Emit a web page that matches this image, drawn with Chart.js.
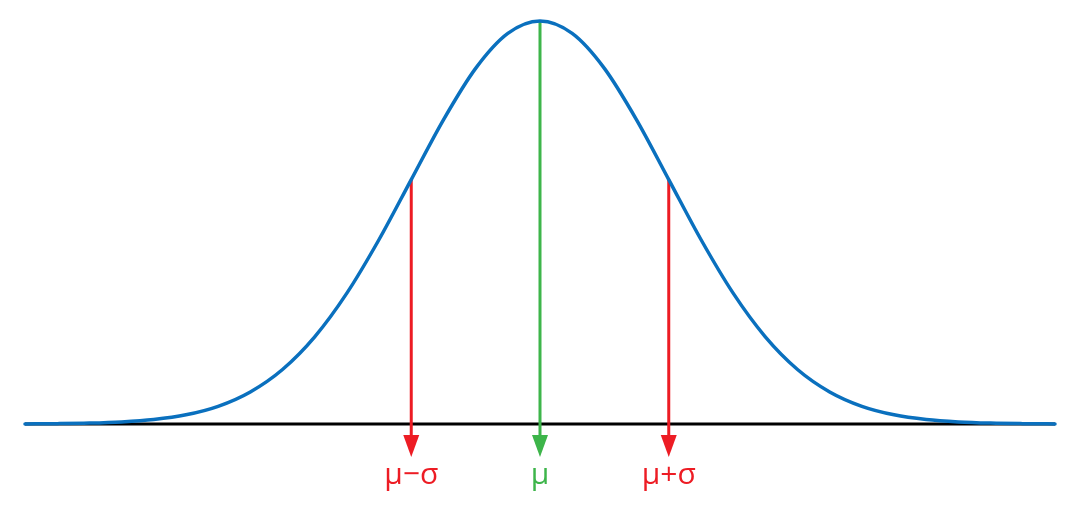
<!DOCTYPE html>
<html>
<head>
<meta charset="utf-8">
<script src="https://cdn.jsdelivr.net/npm/chart.js@4"></script>
<style>
html,body{margin:0;padding:0;background:#fff;}
canvas{display:block;}
</style>
</head>
<body>
<canvas id="c" width="1080" height="514"></canvas>
<script>
// Curve samples (x in σ units, height relative to peak)
const curveX = [-4,-3.75,-3.5,-3.25,-3,-2.75,-2.5,-2.25,-2,-1.75,-1.5,-1.25,-1,-0.75,-0.5,-0.25,0,0.25,0.5,0.75,1,1.25,1.5,1.75,2,2.25,2.5,2.75,3,3.25,3.5,3.75,4];
const curveY = [0.0003,0.0009,0.0022,0.0051,0.0111,0.0228,0.0439,0.0796,0.1353,0.2163,0.3247,0.4578,0.6065,0.7548,0.8825,0.9692,1,0.9692,0.8825,0.7548,0.6065,0.4578,0.3247,0.2163,0.1353,0.0796,0.0439,0.0228,0.0111,0.0051,0.0022,0.0009,0.0003];

// Marker arrows
const markerX = [-1, 0, 1];
const markerTop = [0.6065, 1, 0.6065];
const markerLabels = ['μ−σ', 'μ', 'μ+σ'];
const markerColors = ['#ED1C24', '#3DB54A', '#ED1C24'];

const points = curveX.map((x, i) => ({x: x, y: curveY[i]}));

const arrowPlugin = {
  id: 'arrows',
  beforeDatasetsDraw(chart) {
    const ctx = chart.ctx;
    const xs = chart.scales.x, ys = chart.scales.y;
    const y0 = ys.getPixelForValue(0);
    ctx.save();
    // baseline
    ctx.strokeStyle = '#000';
    ctx.lineWidth = 3;
    ctx.beginPath();
    ctx.moveTo(xs.getPixelForValue(-4), y0);
    ctx.lineTo(xs.getPixelForValue(4), y0);
    ctx.stroke();
    // arrows
    markerX.forEach((mx, i) => {
      const px = xs.getPixelForValue(mx);
      const top = ys.getPixelForValue(markerTop[i]);
      const tip = y0 + 33;
      const base = y0 + 11;
      ctx.strokeStyle = markerColors[i];
      ctx.fillStyle = markerColors[i];
      ctx.lineWidth = 3;
      ctx.beginPath();
      ctx.moveTo(px, top);
      ctx.lineTo(px, base + 2);
      ctx.stroke();
      ctx.beginPath();
      ctx.moveTo(px - 8, base);
      ctx.lineTo(px + 8, base);
      ctx.lineTo(px, tip);
      ctx.closePath();
      ctx.fill();
      ctx.font = '30px "Open Sans", sans-serif';
      ctx.textAlign = 'center';
      ctx.textBaseline = 'alphabetic';
      ctx.fillText(markerLabels[i], px, y0 + 60);
    });
    ctx.restore();
  }
};

new Chart(document.getElementById('c'), {
  type: 'line',
  data: {
    datasets: [{
      data: points,
      borderColor: '#0A70BE',
      borderWidth: 3.5,
      pointRadius: 0,
      fill: false,
      cubicInterpolationMode: 'monotone',
      borderCapStyle: 'round',
      clip: false
    }]
  },
  options: {
    responsive: false,
    animation: false,
    devicePixelRatio: 1,
    layout: {padding: {left: 25, right: 25, top: 21, bottom: 90}},
    plugins: {legend: {display: false}, tooltip: {enabled: false}},
    scales: {
      x: {type: 'linear', min: -4, max: 4, display: false},
      y: {type: 'linear', min: 0, max: 1, display: false}
    }
  },
  plugins: [arrowPlugin]
});
</script>
</body>
</html>
